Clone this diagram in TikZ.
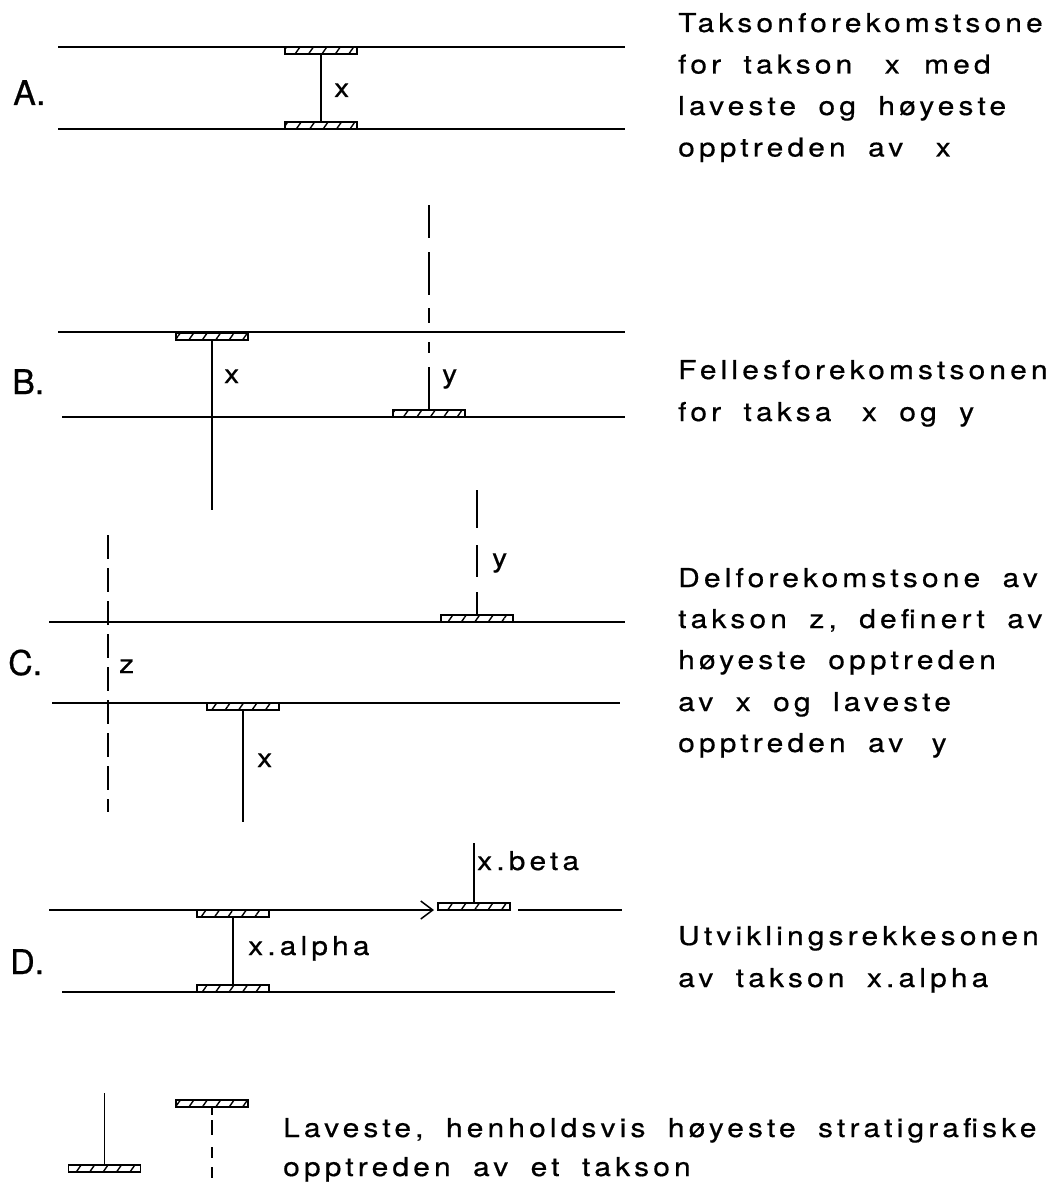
\documentclass[tikz,border=0pt]{standalone}
\usepackage{fontspec}
\newfontfamily\zonetext[LetterSpace=16,WordSpace=1.8,FakeStretch=1.15,FakeBold=0.6]{TeX Gyre Heros}
\newfontfamily\panelfont[FakeBold=0.6]{TeX Gyre Heros}
\usetikzlibrary{arrows.meta,patterns.meta}
\newcommand\wsp[1]{\hspace{#1pt}}

\begin{document}
\begin{tikzpicture}[x=1pt,y=-1pt,
  stratum/.style={line width=1.5pt},
  rangeline/.style={line width=1.6pt},
  bar/.style={draw,line width=1.2pt,minimum width=72pt,minimum height=7pt,
    inner sep=0pt,outer sep=0pt,
    pattern={Lines[angle=55,distance=11pt,line width=1.4pt]}},
  txt/.style={anchor=base west,inner sep=0pt,font=\fontsize{26}{26}\zonetext},
  panel/.style={anchor=base west,inner sep=0pt,font=\fontsize{34}{34}\panelfont},
]
\useasboundingbox (0,0) rectangle (1057,1185);

% zone boundaries (horizons)
\foreach \n/\xa/\xb/\y in {A1/58/625/47, A2/58/625/129,
                           B1/58/625/332, B2/62/625/417,
                           C1/49/625/622, C2/52/620/703,
                           D2/62/615/992}{
  \coordinate (h\n w) at (\xa,\y);
  \coordinate (h\n e) at (\xb,\y);
  \draw[stratum] (h\n w) -- (h\n e);
}

% ---------------- A ----------------
\node[bar] (aTop) at (321,50.5) {};
\node[bar] (aBot) at (321,125.5) {};
\draw[rangeline] (aTop.south) -- (aBot.north);
\node[txt] (lAx) at (334,97) {x};
\node[panel] (pA) at (13,105) {A.};

% ---------------- B ----------------
\node[bar] (bxTop) at (212,336.5) {};
\coordinate (bxEnd) at (212,510);
\draw[rangeline] (bxTop.south) -- (bxEnd);
\node[bar] (byBot) at (429,413.5) {};
\coordinate (byStart) at (429,205);
\draw[rangeline,dash pattern=on 33pt off 14pt on 43pt off 13pt on 15pt off 19pt on 11pt off 14pt on 60pt]
  (byStart) -- (byBot.north);
\node[txt] (lBx) at (224,383) {x};
\node[txt] (lBy) at (442,383) {y};
\node[panel] (pB) at (12,394) {B.};

% ---------------- C ----------------
\node[bar] (cyBot) at (477,618.5) {};
\coordinate (cyStart) at (477,490);
\draw[rangeline,dash pattern=on 38pt off 17pt on 32pt off 15pt on 40pt]
  (cyStart) -- (cyBot.north);
\coordinate (zTop) at (108,535);
\coordinate (zBot) at (108,812);
\draw[rangeline,dash pattern=on 24pt off 9pt] (zTop) -- (zBot);
\node[bar] (cxTop) at (243,706.5) {};
\coordinate (cxEnd) at (243,822);
\draw[rangeline] (cxTop.south) -- (cxEnd);
\node[txt] (lCy) at (492,567) {y};
\node[txt] (lCz) at (119,673) {z};
\node[txt] (lCx) at (257,767) {x};
\node[panel] (pC) at (8,675) {C.};

% ---------------- D ----------------
\node[bar] (dbBot) at (474,906.5) {};
\coordinate (dbStart) at (474,843);
\draw[rangeline] (dbStart) -- (dbBot.north);
\coordinate (hD1w) at (49,910);
\coordinate (hD1m) at (518,910);
\coordinate (hD1e) at (622,910);
\draw[stratum,-{Straight Barb[length=12pt,width=18pt]},shorten >=4pt]
  (hD1w) -- (dbBot.south west);
\draw[stratum] (hD1m) -- (hD1e);
\node[bar] (daTop) at (233,913.5) {};
\node[bar] (daBot) at (233,988.5) {};
\draw[rangeline] (daTop.south) -- (daBot.north);
\node[txt] (lDb) at (477,870) {x.beta};
\node[txt] (lDa) at (248,955) {x.alpha};
\node[panel] (pD) at (10,974) {D.};

% ---------------- explanations ----------------
\node[txt] (tA1) at (678,32)    {Taksonforekomstsone};
\node[txt] (tA2) at (678,73.5)  {for takson \wsp{10}x \wsp{2}med};
\node[txt] (tA3) at (678,115)   {laveste og høyeste};
\node[txt] (tA4) at (678,156.5) {opptreden av \wsp{10}x};

\node[txt] (tB1) at (678,379) {Fellesforekomstsonen};
\node[txt] (tB2) at (678,421) {for taksa \wsp{8}x og y};

\node[txt] (tC1) at (678,587) {Delforekomstsone av};
\node[txt] (tC2) at (678,628) {takson z, definert av};
\node[txt] (tC3) at (678,669) {høyeste opptreden};
\node[txt] (tC4) at (678,711) {av x og laveste};
\node[txt] (tC5) at (678,752) {opptreden av \wsp{6}y};

\node[txt] (tD1) at (678,945) {Utviklingsrekkesonen};
\node[txt] (tD2) at (678,987) {av takson x.alpha};

% ---------------- legend ----------------
\node[bar] (lgLow) at (104.5,1168.5) {};
\coordinate (lgTop) at (104.5,1093);
\draw[rangeline] (lgTop) -- (lgLow.north);
\node[bar] (lgHigh) at (212,1103.5) {};
\coordinate (lgEnd) at (212,1178);
\draw[rangeline,dash pattern=on 8pt off 5pt on 15pt off 12pt on 11pt off 9pt on 11pt]
  (lgHigh.south) -- (lgEnd);
\node[txt] (tL1) at (283,1137) {Laveste, henholdsvis høyeste stratigrafiske};
\node[txt] (tL2) at (283,1176) {opptreden av et takson};
\end{tikzpicture}
\end{document}
